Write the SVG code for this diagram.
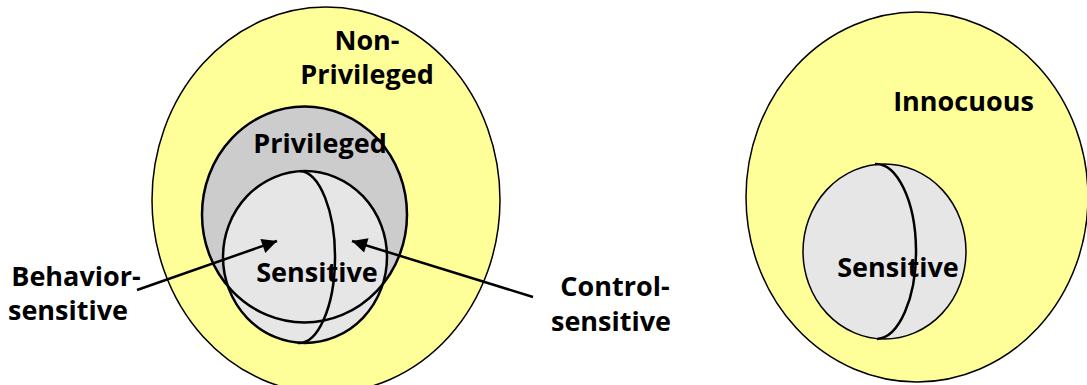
<svg xmlns="http://www.w3.org/2000/svg" width="1087" height="385" viewBox="0 0 1087 385">
  <style>
    .lbl { font-family: "Open Sans", "DejaVu Sans", sans-serif; font-weight: bold; font-size: 27px; fill: #000; }
    .outer { fill: #ffff99; stroke: #000; stroke-width: 1.5; }
    .priv { fill: #cccccc; }
    .sphere { fill: #e6e6e6; }
    .edge { fill: none; stroke: #000; stroke-width: 2.5; }
    .arrow { stroke: #000; stroke-width: 2.5; fill: none; marker-end: url(#head); }
  </style>
  <defs>
    <marker id="head" viewBox="0 0 10 10" refX="10" refY="5" markerWidth="8" markerHeight="6" markerUnits="strokeWidth" orient="auto">
      <path d="M0,0 L10,5 L0,10 Z" fill="#000"/>
    </marker>
  </defs>
  <rect width="1087" height="385" fill="#ffffff"/>

  <!-- left: privilege sets -->
  <g id="non-privileged">
    <ellipse class="outer" cx="326" cy="200" rx="174" ry="193"/>
    <text class="lbl" text-anchor="middle" x="367" y="50">Non-</text>
    <text class="lbl" text-anchor="middle" x="367" y="84">Privileged</text>
  </g>
  <g id="privileged">
    <ellipse class="priv" cx="304.5" cy="214.5" rx="102.5" ry="108"/>
  </g>
  <g id="sensitive-left">
    <ellipse class="sphere" cx="305" cy="257" rx="82" ry="86"/>
    <ellipse class="edge" cx="304.5" cy="214.5" rx="102.5" ry="108"/>
    <ellipse class="edge" cx="305" cy="257" rx="82" ry="86"/>
    <path class="edge" d="M300,171 A36,86 0 0 1 298,343"/>
    <text class="lbl" text-anchor="middle" x="317" y="282">Sensitive</text>
  </g>
  <text class="lbl" text-anchor="middle" x="320" y="153">Privileged</text>

  <!-- right: innocuous set -->
  <g id="innocuous">
    <ellipse class="outer" cx="917" cy="197" rx="171" ry="185"/>
    <text class="lbl" text-anchor="middle" x="963.5" y="111">Innocuous</text>
  </g>
  <g id="sensitive-right">
    <ellipse class="sphere" cx="884.5" cy="251.5" rx="81.5" ry="87.5" stroke="#000" stroke-width="1.5"/>
    <path class="edge" d="M875,164 A40,87.5 0 0 1 877,339"/>
    <text class="lbl" text-anchor="middle" x="898" y="277">Sensitive</text>
  </g>

  <!-- callouts -->
  <g id="behavior-sensitive">
    <text class="lbl" text-anchor="middle" x="76" y="286">Behavior-</text>
    <text class="lbl" text-anchor="middle" x="68" y="320">sensitive</text>
  </g>
  <g id="control-sensitive">
    <text class="lbl" text-anchor="middle" x="615" y="296">Control-</text>
    <text class="lbl" text-anchor="middle" x="611" y="331">sensitive</text>
  </g>
  <g id="connectors">
    <line class="arrow" x1="137" y1="290" x2="277" y2="241"/>
    <line class="arrow" x1="533" y1="297" x2="352" y2="241"/>
  </g>
</svg>
